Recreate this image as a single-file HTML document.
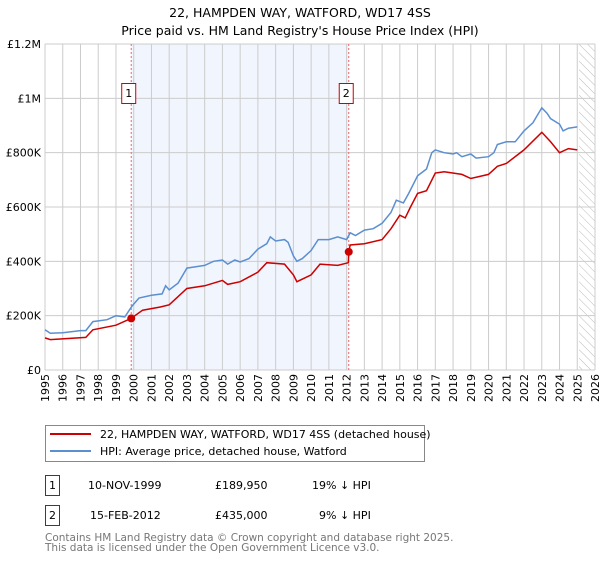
<!DOCTYPE html>
<html><head><meta charset="utf-8"><style>
body{margin:0;background:#fff;font-family:"DejaVu Sans","Liberation Sans",sans-serif;}
svg text{font-family:"DejaVu Sans","Liberation Sans",sans-serif;}
</style></head><body>
<svg id="c" width="600" height="560" xmlns="http://www.w3.org/2000/svg">
<defs><pattern id="hatch" width="6" height="6" patternUnits="userSpaceOnUse" patternTransform="rotate(-45)"><line x1="0" y1="0" x2="0" y2="6" stroke="#bbb" stroke-width="1"/></pattern></defs>
<text x="300" y="17" text-anchor="middle" font-size="12.5">22, HAMPDEN WAY, WATFORD, WD17 4SS</text>
<text x="300" y="35" text-anchor="middle" font-size="12.5">Price paid vs. HM Land Registry's House Price Index (HPI)</text>
<g id="plot"></g>
<g>
<rect x="45.5" y="425.5" width="379" height="36" fill="#fff" stroke="#888"/>
<line x1="50" y1="434" x2="91" y2="434" stroke="#cc0000" stroke-width="2"/>
<text x="100" y="438" font-size="11">22, HAMPDEN WAY, WATFORD, WD17 4SS (detached house)</text>
<line x1="50" y1="451" x2="91" y2="451" stroke="#5b8fd0" stroke-width="2"/>
<text x="100" y="455" font-size="11">HPI: Average price, detached house, Watford</text>
</g>
<g font-size="11">
<rect x="45.5" y="475.5" width="14" height="20" fill="#fff" stroke="#cc0000"/>
<text x="52.5" y="489" text-anchor="middle">1</text>
<text x="88" y="489">10-NOV-1999</text><text x="215" y="489">£189,950</text><text x="312" y="489">19% ↓ HPI</text>
<rect x="45.5" y="505.5" width="14" height="20" fill="#fff" stroke="#cc0000"/>
<text x="52.5" y="519" text-anchor="middle">2</text>
<text x="90" y="519">15-FEB-2012</text><text x="215" y="519">£435,000</text><text x="319" y="519">9% ↓ HPI</text>
</g>
<text x="45" y="541" font-size="10.5" fill="#777">Contains HM Land Registry data © Crown copyright and database right 2025.</text>
<text x="45" y="551" font-size="10.5" fill="#777">This data is licensed under the Open Government Licence v3.0.</text>
</svg>
<script>
const hpiYears=[1995,1995.3,1996,1997,1997.3,1997.7,1998.5,1999,1999.5,1999.9,2000.3,2001,2001.6,2001.8,2002,2002.5,2003,2003.5,2004,2004.5,2005,2005.3,2005.7,2006,2006.5,2007,2007.5,2007.7,2008,2008.5,2008.7,2009,2009.2,2009.5,2010,2010.4,2011,2011.5,2012,2012.2,2012.5,2013,2013.5,2014,2014.5,2014.8,2015.2,2015.5,2016,2016.5,2016.8,2017,2017.5,2018,2018.2,2018.5,2019,2019.3,2020,2020.3,2020.5,2021,2021.5,2022,2022.5,2023,2023.3,2023.5,2024,2024.2,2024.5,2025];
const hpiValues=[148,135,137,145,145,178,185,200,195,235,265,275,280,310,295,320,375,380,385,400,405,390,405,398,410,445,465,490,475,480,470,420,400,410,440,480,480,490,480,505,495,515,520,540,580,625,615,650,715,740,800,810,800,795,800,785,795,780,785,800,830,840,840,880,910,965,945,925,905,880,890,895];
const priceYears=[1995,1995.3,1997.3,1997.7,1999,1999.86,2000.5,2001.5,2002,2003,2004,2005,2005.3,2006,2007,2007.5,2008.5,2009,2009.2,2010,2010.5,2011.5,2012.1,2012.12,2012.2,2013,2014,2014.5,2015,2015.3,2015.6,2016,2016.5,2017,2017.5,2018.5,2019,2020,2020.5,2021,2022,2023,2023.5,2024,2024.5,2025];
const priceValues=[118,112,120,148,165,190,220,232,240,300,310,330,315,325,360,395,390,350,325,350,390,385,395,435,460,465,480,520,570,560,600,650,660,725,730,720,705,720,750,760,810,875,840,800,815,810];
const saleYears=[1999.86,2012.12];
const saleValues=[189950,435000];
const saleLabels=["1","2"];
const yTicks=[0,200000,400000,600000,800000,1000000,1200000];
const yTickLabels=["£0","£200K","£400K","£600K","£800K","£1M","£1.2M"];
const xYears=[];for(let y=1995;y<=2026;y++)xYears.push(y);
const L=45,R=595,T=44,B=370;
const x=v=>L+(v-1995)/(2026-1995)*(R-L);
const y=v=>B-v/1200000*(B-T);
const ns="http://www.w3.org/2000/svg";
const g=document.getElementById('plot');
function mk(t,a,p){const e=document.createElementNS(ns,t);for(const k in a)e.setAttribute(k,a[k]);(p||g).appendChild(e);return e;}
let e;
e=mk('rect',{x:x(saleYears[0]),y:T,width:x(saleYears[1])-x(saleYears[0]),height:B-T,fill:'#eef3fc',opacity:0.8});


e=mk('rect',{x:x(2025.1),y:T,width:R-x(2025.1),height:B-T,fill:'url(#hatch)'});


xYears.forEach(yr=>{
 e=mk('line',{x1:x(yr),x2:x(yr),y1:T,y2:B,stroke:'#ccc','stroke-width':1});
 
 
 e=mk('text',{transform:`translate(${x(yr)+4},${B+32}) rotate(-90)`,'font-size':11});
 e.textContent=yr;
 
 
});
yTicks.forEach((v,i)=>{
 e=mk('line',{x1:L,x2:R,y1:y(v),y2:y(v),stroke:'#ccc','stroke-width':1});
 
 
 e=mk('text',{x:L-4,y:y(v)+4,'text-anchor':'end','font-size':11});
 e.textContent=yTickLabels[i];
 
 
});
saleYears.forEach((s,i)=>{
 e=mk('line',{x1:x(s),x2:x(s),y1:T,y2:B,stroke:'#e66','stroke-width':1,'stroke-dasharray':'2,2'});
 
 
 e=mk('rect',{x:x(s)-9.5,y:83.5,width:14,height:20,fill:'#fff',stroke:'#cc0000'});
 
 
 e=mk('text',{x:x(s)-2.5,y:97,'text-anchor':'middle','font-size':11});
 e.textContent=saleLabels[i];
 
 
});
const path=(xs,vs)=>xs.map((a,i)=>(i?'L':'M')+x(a).toFixed(1)+','+y(vs[i]*1000).toFixed(1)).join('');
e=mk('path',{d:path(hpiYears,hpiValues),fill:'none',stroke:'#5b8fd0','stroke-width':1.5});


e=mk('path',{d:path(priceYears,priceValues),fill:'none',stroke:'#cc0000','stroke-width':1.5});


saleYears.forEach((s,i)=>{
 e=mk('circle',{cx:x(s),cy:y(saleValues[i]),r:4,fill:'#cc0000'});
 
 
});
</script>
</body></html>
